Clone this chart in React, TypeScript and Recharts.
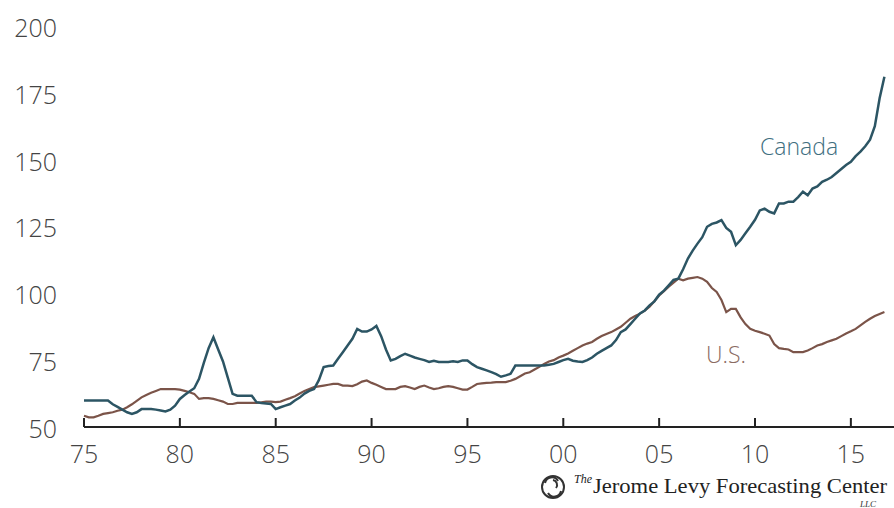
import { Line, LineChart, XAxis, YAxis } from "recharts";

// quarterly house price index, 1975Q1 .. 2016Q4 (one row per year)
const startYear = 1975;

const canada = [
  59.9, 59.9, 59.9, 59.9, // 75
  59.9, 59.9, 58.5, 57.5,
  56.5, 55.5, 54.9, 55.5,
  56.7, 56.7, 56.7, 56.5,
  56.2, 55.8, 56.5, 58.0,
  60.5, 62.0, 63.3, 64.5, // 80
  68.0, 74.0, 79.5, 83.6,
  79.0, 74.5, 68.5, 62.4,
  61.7, 61.7, 61.7, 61.7,
  59.3, 59.0, 58.8, 58.6,
  56.7, 57.4, 58.0, 58.6, // 85
  59.9, 61.0, 62.5, 63.5,
  64.2, 67.5, 72.4, 72.8,
  73.0, 75.5, 78.0, 80.5,
  83.0, 86.7, 85.7, 85.7,
  86.5, 87.8, 84.0, 79.0, // 90
  74.9, 75.5, 76.5, 77.4,
  76.7, 76.0, 75.5, 75.0,
  74.3, 74.8, 74.3, 74.3,
  74.3, 74.6, 74.3, 74.9,
  74.9, 73.5, 72.4, 71.8, // 95
  71.2, 70.5, 69.8, 68.8,
  69.3, 69.9, 73.0, 73.0,
  73.0, 73.0, 73.0, 73.0,
  73.0, 73.3, 73.6, 74.3,
  75.0, 75.5, 74.8, 74.5, // 00
  74.3, 75.0, 76.0, 77.4,
  78.5, 79.5, 80.5, 82.5,
  85.5, 86.5, 88.5, 90.5,
  92.5, 93.6, 95.5, 97.0,
  99.5, 101.0, 103.0, 105.0, // 05
  105.5, 109.0, 113.0, 116.0,
  118.6, 121.0, 124.9, 126.0,
  126.5, 127.4, 124.5, 123.0,
  118.0, 120.0, 122.5, 124.9,
  127.5, 131.0, 131.7, 130.5, // 10
  129.9, 133.6, 133.6, 134.3,
  134.3, 136.0, 138.0, 136.7,
  139.2, 140.0, 141.7, 142.5,
  143.5, 145.0, 146.5, 148.0,
  149.2, 151.3, 153.0, 155.0, // 15
  157.5, 162.5, 173.0, 181.0,
];

const us = [
  54.2, 53.6, 53.6, 54.2, // 75
  54.9, 55.2, 55.5, 56.1,
  56.5, 57.4, 58.5, 59.8,
  61.1, 62.0, 62.8, 63.5,
  64.2, 64.2, 64.2, 64.2,
  64.0, 63.5, 63.0, 62.4, // 80
  60.5, 60.8, 60.8, 60.5,
  60.0, 59.5, 58.6, 58.6,
  59.0, 59.0, 59.0, 59.0,
  59.0, 59.2, 59.5, 59.5,
  59.3, 59.5, 60.2, 60.8, // 85
  61.5, 62.5, 63.5, 64.2,
  64.9, 65.2, 65.5, 65.8,
  66.1, 66.1, 65.5, 65.5,
  65.3, 66.0, 67.0, 67.4,
  66.5, 65.8, 65.0, 64.2, // 90
  64.2, 64.2, 65.0, 65.3,
  64.8, 64.2, 65.0, 65.5,
  64.8, 64.2, 64.5, 65.0,
  65.3, 65.0, 64.5, 64.0,
  64.0, 65.0, 66.1, 66.3, // 95
  66.5, 66.6, 66.8, 66.8,
  66.8, 67.3, 68.0, 69.0,
  70.0, 70.5, 71.5, 72.5,
  73.6, 74.5, 75.0, 76.0,
  76.7, 77.5, 78.5, 79.5, // 00
  80.5, 81.2, 81.8, 83.0,
  84.0, 84.8, 85.5, 86.5,
  87.5, 89.0, 90.5, 91.5,
  92.4, 93.5, 95.0, 97.0,
  99.2, 100.8, 102.5, 104.0, // 05
  105.5, 104.9, 105.5, 105.8,
  106.1, 105.5, 104.3, 102.0,
  100.5, 97.5, 93.0, 94.2,
  94.2, 91.0, 88.5, 86.7,
  86.0, 85.5, 84.9, 84.2, // 10
  81.0, 79.5, 79.2, 79.0,
  78.0, 78.0, 78.0, 78.6,
  79.5, 80.5, 81.0, 81.8,
  82.4, 83.0, 84.0, 85.0,
  85.8, 86.7, 88.0, 89.3, // 15
  90.5, 91.5, 92.3, 93.0,
];

const xTicks = [1975, 1980, 1985, 1990, 1995, 2000, 2005, 2010, 2015];
const yTicks = [50, 75, 100, 125, 150, 175, 200];

const data = canada.map((c, i) => ({
  t: startYear + i * 0.25,
  canada: c,
  us: us[i],
}));

const sans = "'Open Sans', 'Noto Sans', sans-serif";
const serif = "'Liberation Serif', 'DejaVu Serif', serif";

const yearLabel = (v: number) => String(v % 100).padStart(2, "0");

function XTick(props: any) {
  const { x, y, payload } = props;
  return (
    <g>
      <line x1={x} x2={x} y1={y} y2={y - 9} stroke="#222" strokeWidth={2} />
      <text
        x={x}
        y={y + 36}
        textAnchor="middle"
        fontSize={25}
        fontWeight={300}
        fontFamily={sans}
        fill="#444"
      >
        {yearLabel(payload.value)}
      </text>
    </g>
  );
}

export default function App() {
  return (
    <div
      style={{
        position: "absolute",
        left: 0,
        top: 0,
        width: 894,
        height: 508,
        background: "#fff",
        overflow: "hidden",
      }}
    >
      <LineChart
        width={894}
        height={508}
        data={data}
        margin={{ top: 26, right: 0, left: 0, bottom: 51 }}
      >
        <XAxis
          dataKey="t"
          type="number"
          domain={[1975, 2017.25]}
          ticks={xTicks}
          height={30}
          stroke="#222"
          strokeWidth={2}
          tickLine={false}
          tickSize={0}
          tickMargin={0}
          tick={<XTick />}
          interval={0}
        />
        <YAxis
          type="number"
          domain={[50, 200]}
          ticks={yTicks}
          width={84}
          axisLine={false}
          tickLine={false}
          tickSize={0}
          tickMargin={27}
          interval={0}
          tick={{ fontSize: 25, fontWeight: 300, fill: "#444", fontFamily: sans, dy: 2 }}
        />
        <Line
          dataKey="us"
          stroke="#7b5449"
          strokeWidth={2.2}
          dot={false}
          isAnimationActive={false}
        />
        <Line
          dataKey="canada"
          stroke="#2c5564"
          strokeWidth={2.5}
          dot={false}
          isAnimationActive={false}
        />
      </LineChart>

      <svg
        width={894}
        height={508}
        style={{ position: "absolute", left: 0, top: 0, pointerEvents: "none" }}
      >
        <text x={760} y={155} fontSize={23} fontWeight={300} fontFamily={sans} fill="#3f6f7f">
          Canada
        </text>
        <text x={706} y={363} fontSize={23} fontWeight={300} fontFamily={sans} fill="#8a6b62">
          U.S.
        </text>

        {/* source / logo */}
        <g fill="none" stroke="#333" strokeWidth={2}>
          <circle cx={553} cy={487} r={11} />
          <path d="M545,483 a7,7 0 0,1 13,-2" />
          <path d="M561,491 a7,7 0 0,1 -13,2" />
          <path d="M553,480 a5,5 0 0,1 3,8" />
        </g>
        <text x={574} y={483} fontSize={12} fontStyle="italic" fontFamily={serif} fill="#222">
          The
        </text>
        <text
          x={593}
          y={493}
          fontSize={22}
          fontFamily={serif}
          fill="#222"
          textLength={294}
          lengthAdjust="spacingAndGlyphs"
        >
          Jerome Levy Forecasting Center
        </text>
        <text x={860} y={507} fontSize={9} fontStyle="italic" fontFamily={serif} fill="#333">
          LLC
        </text>
      </svg>
    </div>
  );
}
